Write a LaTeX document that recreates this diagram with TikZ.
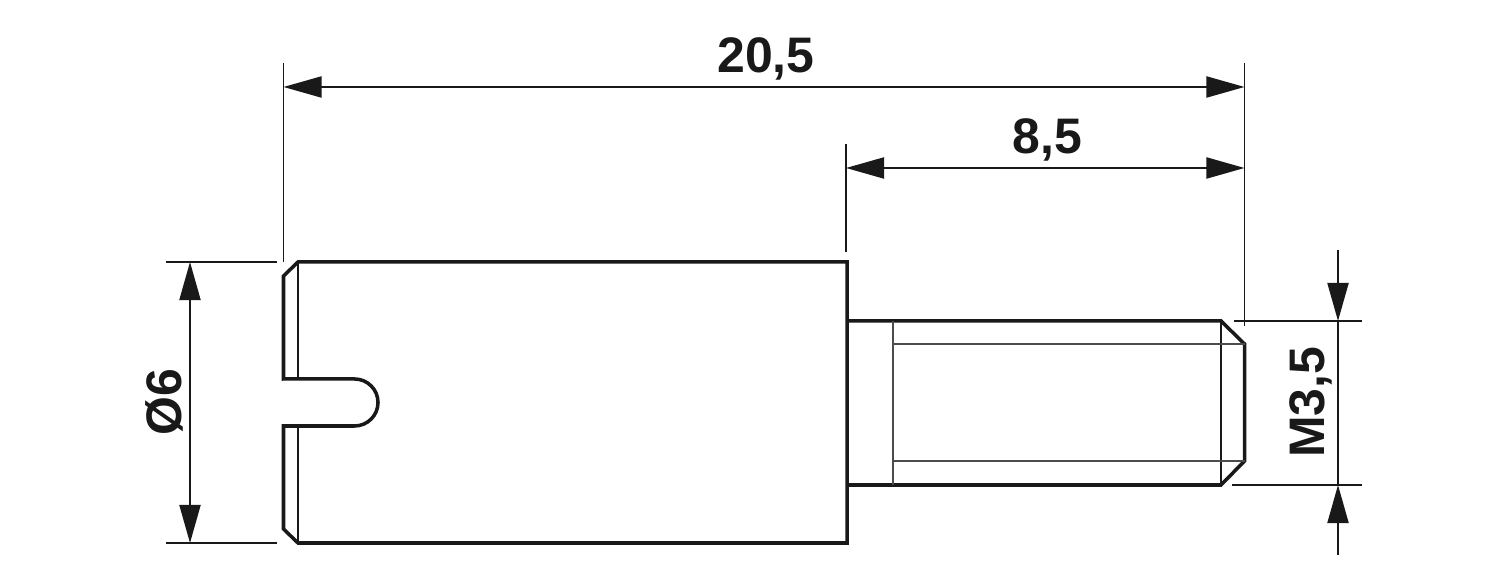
\documentclass[tikz,border=0pt]{standalone}
\usepackage{fontspec}
\setmainfont{Liberation Sans}
\usetikzlibrary{arrows.meta}
\colorlet{inkcol}{black!90}
\tikzset{
    outline/.style={line width=1pt, color=inkcol, line join=miter},
    hairline/.style={line width=0.4pt, color=black!70},
    extline/.style={line width=0.55pt, color=inkcol},
    dimline/.style={line width=0.55pt, color=inkcol, {Triangle[length=0.38cm,width=0.21cm]}-{Triangle[length=0.38cm,width=0.21cm]}},
    dimtip/.style={line width=0.55pt, color=inkcol, -{Triangle[length=0.38cm,width=0.21cm]}},
    dimlabel/.style={font=\fontsize{14.2}{14.2}\selectfont\bfseries, color=inkcol, inner sep=0pt}
}
\begin{document}
\begin{tikzpicture}[x=0.01cm,y=-0.01cm]
        \useasboundingbox (0,0) rectangle (1500,586);

        % Testa con taglio
        \draw[outline] (283.5,276) -- (298,262) -- (847,262) -- (847,543) -- (298,543) -- (283.5,529)
            -- (283.5,426) -- (354.5,426) arc[start angle=-90, end angle=90, radius=0.235cm]
            -- (283.5,379) -- cycle;
        \draw[line width=0.65pt, color=inkcol] (298,262) -- (298,379);
        \draw[line width=0.65pt, color=inkcol] (298,426) -- (298,543);

        % Filetto
        \draw[outline] (847,321) -- (1221,321) -- (1244.5,344) -- (1244.5,461) -- (1221,485) -- (847,485);
        \draw[line width=0.65pt, color=inkcol] (1221,321) -- (1221,485);
        \draw[hairline] (893,321) -- (893,485);
        \draw[hairline] (893,344) -- (1244.5,344);
        \draw[hairline] (893,461) -- (1244.5,461);

        % Punti delle quote
        \coordinate (totalleft) at (283.5,87);
        \coordinate (totalright) at (1244.5,87);
        \coordinate (threadleft) at (846,168);
        \coordinate (threadright) at (1244.5,168);
        \coordinate (headtop) at (190,262);
        \coordinate (headbottom) at (190,543);
        \coordinate (pitchtop) at (1338,321);
        \coordinate (pitchbottom) at (1338,485);
        \coordinate (pitchstart) at (1338,250);
        \coordinate (pitchend) at (1338,555);

        % Linee di riferimento
        \draw[extline] (283.5,63) -- (283.5,262);
        \draw[extline] (1244.5,63) -- (1244.5,326);
        \draw[extline] (846,144) -- (846,252);
        \draw[extline] (166,262) -- (277,262);
        \draw[extline] (166,543) -- (277,543);
        \draw[extline] (1234,321) -- (1362,321);
        \draw[extline] (1232,485) -- (1362,485);

        % Quote
        \draw[dimline] (totalleft) -- (totalright);
        \draw[dimline] (threadleft) -- (threadright);
        \draw[dimline] (headtop) -- (headbottom);
        \draw[dimtip] (pitchstart) -- (pitchtop);
        \draw[dimtip] (pitchend) -- (pitchbottom);
        \draw[extline] (pitchtop) -- (pitchbottom);

        \node[dimlabel] (totallabel) at (766,59) {20,5};
        \node[dimlabel] (threadlabel) at (1047.5,140) {8,5};
        \node[dimlabel, rotate=90] (headlabel) at (164,402) {Ø6};
        \node[dimlabel, rotate=90] (pitchlabel) at (1311,402.5) {M3,5};
\end{tikzpicture}
\end{document}
